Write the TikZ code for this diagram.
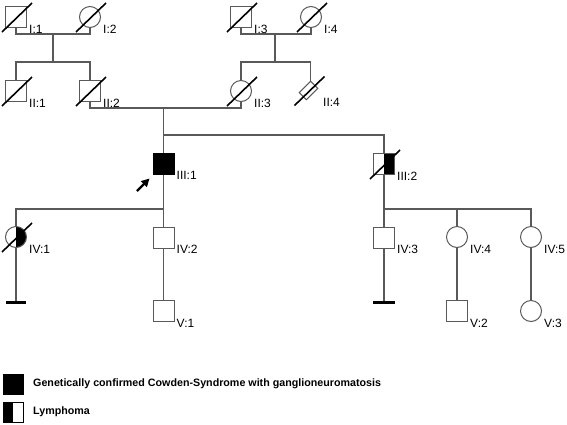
\documentclass[tikz,border=0pt]{standalone}
\usepackage{fontspec}
\setmainfont{Liberation Sans}
\usetikzlibrary{arrows.meta}

\definecolor{pedgray}{gray}{0.35}
\tikzset{
  male/.style={draw=pedgray, line width=1pt, rectangle, minimum size=21pt, inner sep=0pt},
  female/.style={draw=pedgray, line width=1pt, circle, minimum size=21pt, inner sep=0pt},
  affected/.style={fill=black, draw=black},
  halfright/.style={path picture={\fill (path picture bounding box.north) rectangle (path picture bounding box.south east);}},
  halfleft/.style={path picture={\fill (path picture bounding box.north west) rectangle (path picture bounding box.south);}},
  idtag/.style={anchor=west, inner sep=0pt, font=\fontsize{12}{12}\selectfont},
  pedline/.style={draw=pedgray, line width=1.1pt},
  slash/.style={draw=black, line width=1.6pt},
  nokids/.style={draw=black, line width=3pt},
  keytext/.style={anchor=west, inner sep=0pt, font=\bfseries\fontsize{10.7}{12}\selectfont}
}
\newcommand{\deceased}[1]{\draw[slash] ([shift={(-14,15)}]#1.center) -- ([shift={(16,-14)}]#1.center);}
\newcommand{\idlabel}[2]{\node[idtag] (#1l) at ([shift={(13,12)}]#1.center) {#2};}

\begin{document}
\begin{tikzpicture}[x=1pt,y=-1pt]
    \useasboundingbox (0,0) rectangle (567,424);

    % generation I
    \node[male] (I1) at (16,17) {};
    \node[female] (I2) at (90,17) {};
    \node[male] (I3) at (241,17) {};
    \node[female] (I4) at (311,17) {};

    % generation II
    \node[male] (II1) at (16,91) {};
    \node[male] (II2) at (90,91) {};
    \node[female] (II3) at (241,91) {};
    \node[draw=pedgray, line width=1pt, rectangle, minimum width=16pt, minimum height=10pt, inner sep=0pt, rotate=45] (II4) at (308.5,90.5) {};

    % generation III
    \node[male, affected] (III1) at (163.5,163.5) {};
    \node[male, halfright] (III2) at (384,164) {};

    % generation IV and V
    \node[female, halfright] (IV1) at (16,237) {};
    \node[male] (IV2) at (163.5,237.5) {};
    \node[male] (IV3) at (384,237.5) {};
    \node[female] (IV4) at (457,237) {};
    \node[female] (IV5) at (531,237) {};
    \node[male] (V1) at (163.5,311) {};
    \node[male] (V2) at (457,311) {};
    \node[female] (V3) at (531,311) {};

    \coordinate (m1) at (53,34);
    \coordinate (s1) at (53,62);
    \coordinate (m2) at (275,34);
    \coordinate (s2) at (275,62);
    \coordinate (m3) at (163.5,108);
    \coordinate (s3) at (163.5,135);
    \coordinate (s4) at (163.5,209);
    \coordinate (s5) at (384,209);
    \coordinate (b1) at (16,302);
    \coordinate (b2) at (384,302);

    \draw[pedline] (I1.south) |- (m1) -| (I2.south);
    \draw[pedline] (m1) -- (s1);
    \draw[pedline] (II1.north) |- (s1) -| (II2.north);
    \draw[pedline] (I3.south) |- (m2) -| (I4.south);
    \draw[pedline] (m2) -- (s2);
    \draw[pedline] (II3.north) |- (s2) -| (II4.north east);

    \draw[pedline] (II2.south) |- (m3) -| (II3.south);
    \draw[pedline] (m3) -- (III1.north);
    \draw[pedline] (s3) -| (III2.north);

    \draw[pedline] (III1.south) -- (s4);
    \draw[pedline] (IV1.north) |- (s4) -- (IV2.north);
    \draw[pedline] (IV1.south) -- (b1);
    \draw[nokids] ([xshift=-10]b1) -- ([xshift=10]b1);
    \draw[pedline] (IV2.south) -- (V1.north);

    \draw[pedline] (III2.south) -- (s5);
    \draw[pedline] (s5) -- (IV3.north);
    \draw[pedline] (s5) -| (IV4.north);
    \draw[pedline] (s5) -| (IV5.north);
    \draw[pedline] (IV3.south) -- (b2);
    \draw[nokids] ([xshift=-11]b2) -- ([xshift=11]b2);
    \draw[pedline] (IV4.south) -- (V2.north);
    \draw[pedline] (IV5.south) -- (V3.north);

    \deceased{I1}
    \deceased{I2}
    \deceased{I3}
    \deceased{I4}
    \deceased{II1}
    \deceased{II2}
    \deceased{II3}
    \deceased{II4}
    \deceased{III2}
    \deceased{IV1}

    % proband
    \coordinate (pb) at (137,191);
    \draw[-{Triangle[length=8pt,width=8pt]}, line width=2.2pt] (pb) -- ([shift={(-3,4)}]III1.south west);

    \idlabel{I1}{I:1}
    \idlabel{I2}{I:2}
    \idlabel{I3}{I:3}
    \idlabel{I4}{I:4}
    \idlabel{II1}{II:1}
    \idlabel{II2}{II:2}
    \idlabel{II3}{II:3}
    \node[idtag] (II4l) at (323,102) {II:4};
    \idlabel{III1}{III:1}
    \idlabel{III2}{III:2}
    \idlabel{IV1}{IV:1}
    \idlabel{IV2}{IV:2}
    \idlabel{IV3}{IV:3}
    \idlabel{IV4}{IV:4}
    \idlabel{IV5}{IV:5}
    \idlabel{V1}{V:1}
    \idlabel{V2}{V:2}
    \idlabel{V3}{V:3}

    % key
    \node[male, affected, minimum size=20pt] (key1) at (13,384) {};
    \node[keytext] (key1t) at (33,384) {Genetically confirmed Cowden-Syndrome with ganglioneuromatosis};
    \node[male, halfleft, minimum size=20pt, draw=black] (key2) at (13,412) {};
    \node[keytext] (key2t) at (33,412) {Lymphoma};
\end{tikzpicture}
\end{document}
